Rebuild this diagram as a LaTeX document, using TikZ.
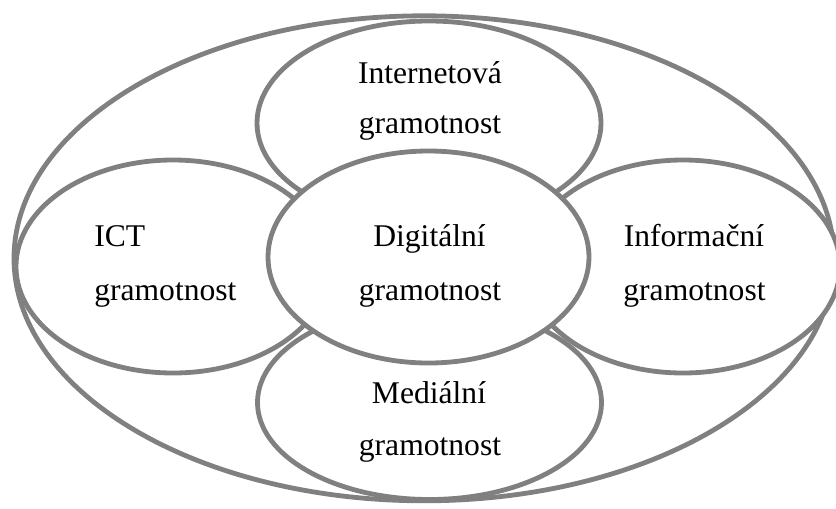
\documentclass[tikz,border=0pt]{standalone}
\usepackage{fontspec}
\setmainfont{Liberation Serif}
\usetikzlibrary{shapes.geometric}
\definecolor{ln}{HTML}{808080}
\tikzset{
  oval/.style={ellipse, draw=ln, line width=3.6pt, fill=white, inner sep=0pt, outer sep=0pt},
  lbl/.style={anchor=base, inner sep=0pt, font=\fontsize{23.7}{28}\selectfont, text=black},
  lbll/.style={lbl, anchor=base west}
}
\begin{document}
\begin{tikzpicture}[x=0.75pt, y=-0.75pt]
\useasboundingbox (0,0) rectangle (836,508);
\clip (0,0) rectangle (836,508);
\node[oval, minimum width=615pt, minimum height=363.75pt] (outer) at (424,258.3) {};
\node[oval, minimum width=258pt, minimum height=153pt] (inet) at (429,123) {};
\node[oval, minimum width=258pt, minimum height=145.5pt] (med) at (429.5,402.5) {};
\node[oval, minimum width=235.5pt, minimum height=159.75pt] (ict) at (173,266.5) {};
\node[oval, minimum width=235.5pt, minimum height=159.75pt] (inf) at (683,266.5) {};
\node[oval, minimum width=240.75pt, minimum height=159pt] (dig) at (428.5,257) {};

\node[lbl] (inet1) at (430,83) {Internetová};
\node[lbl] (inet2) at (430,133) {gramotnost};
\node[lbll] (ict1) at (94,246) {ICT};
\node[lbll] (ict2) at (94,300) {gramotnost};
\node[lbl] (dig1) at (429.5,246) {Digitální};
\node[lbl] (dig2) at (430,300) {gramotnost};
\node[lbl] (inf1) at (694,246) {Informační};
\node[lbl] (inf2) at (694.5,300) {gramotnost};
\node[lbl] (med1) at (429,403) {Mediální};
\node[lbl] (med2) at (430,455) {gramotnost};
\end{tikzpicture}
\end{document}
